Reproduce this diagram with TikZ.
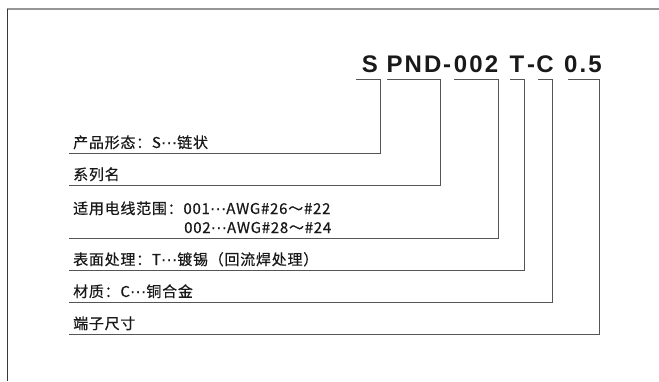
\documentclass[tikz,border=0pt]{standalone}
\usepackage{fontspec}
\setmainfont{Noto Sans CJK SC}[LetterSpace=5,FakeBold=0.5]
\newfontfamily\partfont{Liberation Sans}[LetterSpace=9]
\newfontfamily\dotfont{DejaVu Sans}[FakeBold=0.5]
\newcommand{\seqdots}{{\dotfont\fontsize{14}{19}\selectfont
  \kern0.5pt·\kern1pt·\kern1pt·\kern0.5pt}}
\usepackage{xcolor}
\definecolor{linegray}{RGB}{85,85,85}
\definecolor{framegray}{RGB}{150,150,150}
\definecolor{framedark}{RGB}{55,55,55}
\usetikzlibrary{calc}

\begin{document}
\begin{tikzpicture}[x=1pt,y=-1pt,
    part/.style={anchor=base,inner sep=0pt,text=black!90,
      font=\partfont\bfseries\fontsize{24}{24}\selectfont},
    label/.style={anchor=base west,inner sep=0pt,text=black!90,
      font=\fontsize{15}{19}\selectfont},
    brk/.style={draw=linegray,line width=0.9pt}]
  \useasboundingbox (0,0) rectangle (659,381);
  % frame
  \draw[framegray,line width=1.5pt] (7,9) -- (659,9);
  \draw[framedark,line width=1pt] (7,9) -- (7,381);
  % part number
  \node[part] (s)   at (370,72) {S};
  \node[part] (pnd) at (414,72) {PND};
  \node[part] (h1)  at (447,72) {-};
  \node[part] (no)  at (476,72) {002};
  \node[part] (t)   at (517,72) {T};
  \node[part] (h2)  at (531,72) {-};
  \node[part] (c)   at (545,72) {C};
  \node[part] (len) at (583,72) {0.5};
  % descriptions
  \node[label] (form)     at (73,148) {产品形态：S\seqdots 链状};
  \node[label] (series)   at (73,180) {系列名};
  \node[label] (wire)     at (73,214) {适用电线范围：001\seqdots AWG\#26～\#22};
  \node[label] (wire2)    at (184,233) {002\seqdots AWG\#28～\#24};
  \node[label] (plating)  at (73,265) {表面处理：T\seqdots 镀锡（回流焊处理）};
  \node[label] (material) at (73,297) {材质：C\seqdots 铜合金};
  \node[label] (size)     at (73,329) {端子尺寸};
  % bracket corners and line ends
  \coordinate (a-s) at (356,79.5);   \coordinate (k-s) at (380,79.5);
  \coordinate (a-p) at (387,79.5);   \coordinate (k-p) at (440,79.5);
  \coordinate (a-n) at (454,79.5);   \coordinate (k-n) at (498,79.5);
  \coordinate (a-t) at (510,79.5);   \coordinate (k-t) at (524,79.5);
  \coordinate (a-c) at (538,79.5);   \coordinate (k-c) at (552,79.5);
  \coordinate (a-l) at (568,79.5);   \coordinate (k-l) at (599,79.5);
  \coordinate (u-s) at (69,153);
  \coordinate (u-p) at (69,185);
  \coordinate (u-n) at (69,238);
  \coordinate (u-t) at (69,270);
  \coordinate (u-c) at (69,302);
  \coordinate (u-l) at (69,334);
  \path[brk]
    (a-s) edge[to path={-- (\tikztostart) -- (k-s) |- (\tikztotarget)}] (u-s)
    (a-p) edge[to path={-- (\tikztostart) -- (k-p) |- (\tikztotarget)}] (u-p)
    (a-n) edge[to path={-- (\tikztostart) -- (k-n) |- (\tikztotarget)}] (u-n)
    (a-t) edge[to path={-- (\tikztostart) -- (k-t) |- (\tikztotarget)}] (u-t)
    (a-c) edge[to path={-- (\tikztostart) -- (k-c) |- (\tikztotarget)}] (u-c)
    (a-l) edge[to path={-- (\tikztostart) -- (k-l) |- (\tikztotarget)}] (u-l)
    ;
\end{tikzpicture}
\end{document}
